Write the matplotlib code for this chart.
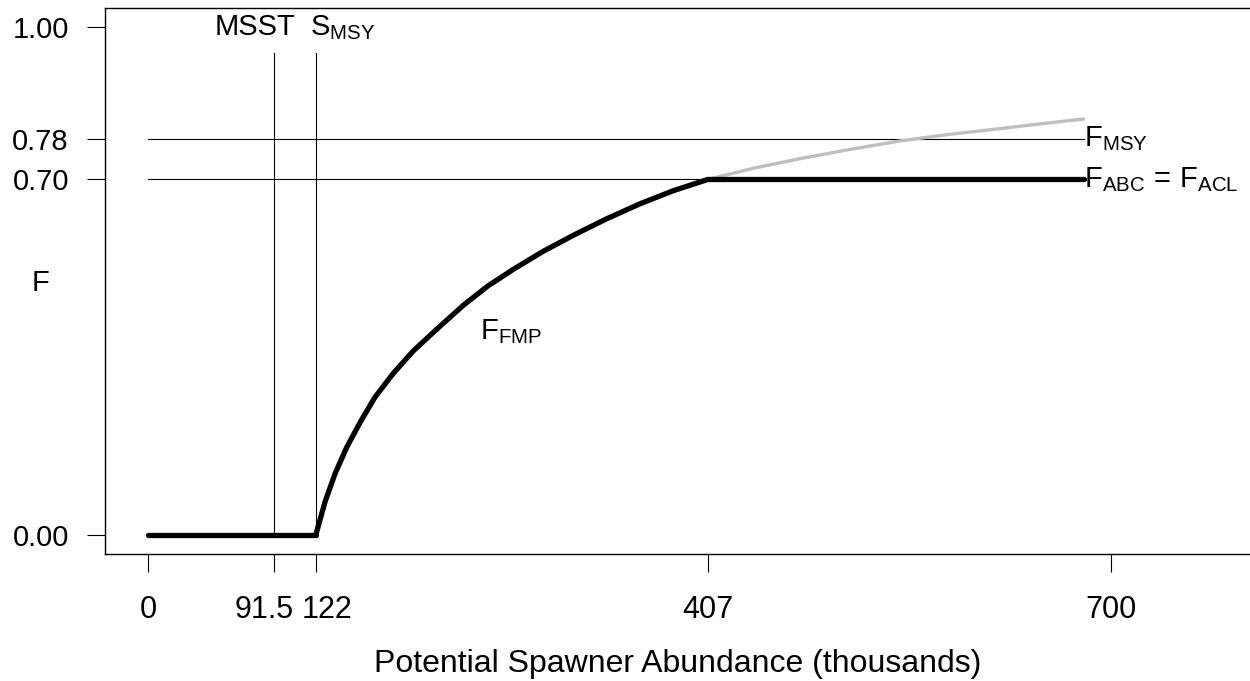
import numpy as np
import matplotlib.pyplot as plt
from matplotlib.transforms import ScaledTranslation

plt.rcParams['font.family'] = ['Liberation Sans', 'DejaVu Sans']
plt.rcParams['mathtext.fontset'] = 'custom'
plt.rcParams['mathtext.rm'] = 'Liberation Sans'
plt.rcParams['mathtext.it'] = 'Liberation Sans'

# reference points
msst = 91.5
s_msy = 122
s_cap = 407
f_abc = 0.70
f_msy = 0.78

# F_FMP curve (thousands, F)
fmp_s = [122, 128.7, 135.9, 144.4, 154.1, 165.0, 178.3, 192.8, 209.9, 229.2,
         247, 265.6, 287, 309.2, 333, 357.6, 382, 407]
fmp_f = [0.0, 0.065, 0.120, 0.172, 0.221, 0.271, 0.318, 0.362, 0.405, 0.452,
         0.490, 0.523, 0.558, 0.590, 0.622, 0.652, 0.678, 0.70]

# grey continuation above the cap
grey_s = [407, 440, 474, 510, 547, 583, 619, 650, 680]
grey_f = [0.70, 0.722, 0.741, 0.759, 0.776, 0.789, 0.800, 0.810, 0.819]

xticks = [0, 91.5, 122, 407, 700]
xlabels = ["0", "91.5", "122", "407", "700"]
yticks = [0, 0.70, 0.78, 1.00]
ylabels = ["0.00", "0.70", "0.78", "1.00"]

fig = plt.figure(figsize=(12.5, 6.81), dpi=100)
ax = fig.add_axes([0.084, 0.187, 0.916, 0.801])
ax.set_xlim(-31.3, 801)
ax.set_ylim(-0.0375, 1.0375)

# reference lines
ax.plot([0, 680], [f_msy, f_msy], color='black', lw=0.8)
ax.plot([0, 680], [f_abc, f_abc], color='black', lw=0.8)
ax.plot([msst, msst], [0, 0.949], color='black', lw=0.8)
ax.plot([s_msy, s_msy], [0, 0.949], color='black', lw=0.8)

# curves
ax.plot(grey_s, grey_f, color='#bebebe', lw=2.4, solid_capstyle='round', solid_joinstyle='round')
ax.plot([0, s_msy], [0, 0], color='black', lw=3.8, solid_capstyle='round')
ax.plot(fmp_s, fmp_f, color='black', lw=3.8, solid_capstyle='round', solid_joinstyle='round')
ax.plot([s_cap, 680], [f_abc, f_abc], color='black', lw=3.8, solid_capstyle='round')

fs = 21
ax.text(107, 1.0, "MSST", ha='right', va='center', fontsize=fs)
ax.text(117.5, 1.0, r"$\mathregular{S_{MSY}}$", ha='left', va='center', fontsize=fs)
ax.text(241, 0.40, r"$\mathregular{F_{FMP}}$", ha='left', va='center', fontsize=fs)
ax.text(680.5, f_msy, r"$\mathregular{F_{MSY}}$", ha='left', va='center', fontsize=fs)
ax.text(680.5, f_abc, r"$\mathregular{F_{ABC}\,=\,F_{ACL}}$", ha='left', va='center', fontsize=fs)

ax.set_xticks(xticks)
ax.set_xticklabels(xlabels, fontsize=22)
ax.set_yticks(yticks)
ax.set_yticklabels(ylabels, fontsize=21)
ax.tick_params(axis='x', length=13, width=0.8, pad=17)
ax.tick_params(axis='y', length=13, width=0.8, pad=13)
ax.spines['right'].set_visible(False)
for s in ['left', 'top', 'bottom']:
    ax.spines[s].set_linewidth(1.0)

# nudge the two crowded tick labels apart, as in the original
shifts = {"91.5": -10, "122": 11}
for lbl in ax.get_xticklabels():
    dx = shifts.get(lbl.get_text(), 0)
    if dx:
        lbl.set_transform(lbl.get_transform() + ScaledTranslation(dx / 100, 0, fig.dpi_scale_trans))

ax.set_xlabel("Potential Spawner Abundance (thousands)", fontsize=23, labelpad=17)
ax.set_ylabel("F", fontsize=fs, rotation=0, va='center')
ax.yaxis.set_label_coords(-0.056, 0.497)

fig.savefig("out.png", dpi=100)
